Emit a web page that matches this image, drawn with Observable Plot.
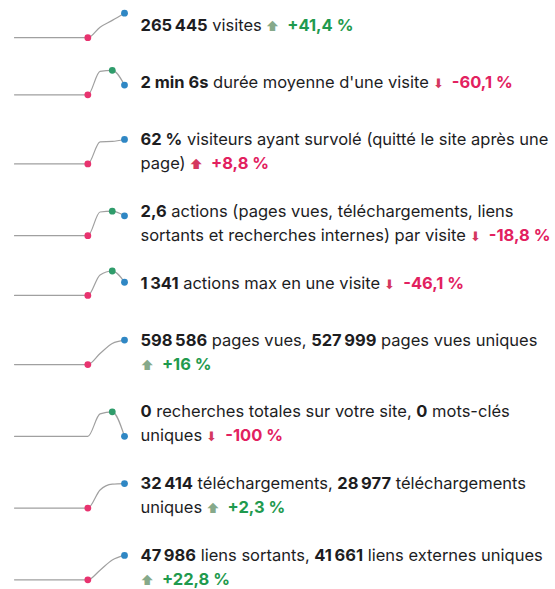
<!DOCTYPE html>
<html><head><meta charset="utf-8">
<script src="https://cdn.jsdelivr.net/npm/d3@7"></script>
<script src="https://cdn.jsdelivr.net/npm/@observablehq/plot@0.6"></script>
<style>
html,body{margin:0;padding:0;background:#fff;}
#chart svg{display:block;}
</style></head><body><div id="chart"></div>
<script>
// ---- data ----
const metrics = ["visits","avgTime","bounce","actionsPerVisit","maxActions","pageviews","searches","downloads","outlinks"];
// sparkline values, 10 periods (oldest → latest)
const visitsSeries      = [0,0,0,0,0,0,0,114000,187700,265445];
const avgTimeSeries     = [0,0,0,0,0,0,0,303,316,126];
const bounceSeries      = [0,0,0,0,0,0,0,56,57,62];
const actionsSeries     = [0,0,0,0,0,0,0,3.1,3.2,2.6];
const maxActionsSeries  = [0,0,0,0,0,0,0,2090,2488,1341];
const pageviewsSeries   = [0,0,0,0,0,0,0,270000,516000,598586];
const searchesSeries    = [0,0,0,0,0,0,0,11,12,0];
const downloadsSeries   = [0,0,0,0,0,0,0,24000,31690,32414];
const outlinksSeries    = [0,0,0,0,0,0,0,19000,39080,47986];
const series = [visitsSeries, avgTimeSeries, bounceSeries, actionsSeries, maxActionsSeries,
                pageviewsSeries, searchesSeries, downloadsSeries, outlinksSeries];

const N = "\u202F"; // narrow no-break space
const headlineLines = [
  [`**265${N}445** visites`],
  [`**2 min 6s** durée moyenne d'une visite`],
  [`**62 %** visiteurs ayant survolé (quitté le site après une`, `page)`],
  [`**2,6** actions (pages vues, téléchargements, liens`, `sortants et recherches internes) par visite`],
  [`**1${N}341** actions max en une visite`],
  [`**598${N}586** pages vues, **527${N}999** pages vues uniques`, ``],
  [`**0** recherches totales sur votre site, **0** mots-clés`, `uniques`],
  [`**32${N}414** téléchargements, **28${N}977** téléchargements`, `uniques`],
  [`**47${N}986** liens sortants, **41${N}661** liens externes uniques`, ``]
];
const evolution = ["+41,4\u00A0%","-60,1\u00A0%","+8,8\u00A0%","-18,8\u00A0%","-46,1\u00A0%","+16\u00A0%","-100\u00A0%","+2,3\u00A0%","+22,8\u00A0%"];
const trendUp   = [true,false,true,false,false,true,false,true,true];
const trendGood = [true,false,false,false,false,true,false,true,true];

// ---- style / layout ----
const W = 555, H = 589, UNIT = 24;        // one text line = 1 unit (24px)
const FIRST_TOP = 0.54, STEP1 = 2.38, STEP2 = 2.99, SPARK_H = 1.02;
const TEXT = "#1d1d1f", GOOD = "#1f9a4e", BAD = "#e2215f";
const ARROW_GOOD = "#86a98a", ARROW_BAD = "#d4385f";
const LINE = "#a0a0a0", MIN_C = "#e8336f", MAX_C = "#2f9c6b", LAST_C = "#2f87c4";

// row tops (in line units) from each row's number of lines
const rowTop = [];
headlineLines.reduce((t, lines, r) => { rowTop[r] = t; return t + (lines.length === 1 ? STEP1 : STEP2); }, FIRST_TOP);
const rowCenter = headlineLines.map((l, r) => rowTop[r] + l.length / 2);

const sparkData = series.flatMap((s, r) => {
  const mx = d3.max(s) || 1;
  return s.map((v, i) => ({r, i, v, y: rowCenter[r] + SPARK_H / 2 - (v / mx) * SPARK_H}));
});
const dotData = series.flatMap((s, r) => {
  const last = s.length - 1;
  const mn = d3.min(s), mx = d3.max(s);
  let minIdx = 0; s.forEach((v, i) => { if (v === mn) minIdx = i; });
  const maxIdx = s.indexOf(mx);
  const pts = [];
  if (minIdx !== last) pts.push({r, i: minIdx, c: MIN_C});
  if (maxIdx !== last) pts.push({r, i: maxIdx, c: MAX_C});
  pts.push({r, i: last, c: LAST_C});
  return pts.map(p => ({...p, y: sparkData.find(d => d.r === r && d.i === p.i).y}));
});

function parse(str) {
  return str.split("**").map((t, k) => ({text: t, bold: k % 2 === 1})).filter(s => s.text !== "");
}
const textData = headlineLines.flatMap((lines, r) => lines.map((line, j) => {
  const segs = parse(line);
  if (j === lines.length - 1) {
    const good = trendGood[r];
    segs.push({text: trendUp[r] ? "\u2B06" : "\u2B07", fill: good ? ARROW_GOOD : ARROW_BAD, size: 13, dx: line === "" ? 0 : 4});
    segs.push({text: evolution[r], bold: true, fill: good ? GOOD : BAD, dx: 8});
  }
  return {r, j, y: rowTop[r] + j + 0.5, segs, plain: segs.map(s => s.text).join("")};
}));

const chart = Plot.plot({
  width: W, height: H,
  marginLeft: 14, marginRight: W - 124, marginTop: 0, marginBottom: 0,
  x: {domain: [0, 9], axis: null},
  y: {domain: [0, H / UNIT], range: [0, H], axis: null},
  style: {background: "#fff", fontFamily: "Inter, 'Noto Sans', sans-serif"},
  marks: [
    Plot.line(sparkData, {x: "i", y: "y", z: "r", stroke: LINE, strokeWidth: 1.2, curve: "monotone-x"}),
    Plot.dot(dotData, {x: "i", y: "y", r: 3.4, fill: d => d.c, stroke: "none"}),
    Plot.text(textData, {x: () => 9, y: "y", text: "plain", dx: 16, textAnchor: "start",
      fontSize: 16.5, fill: TEXT})
  ]
});

d3.select(chart).selectAll('g[aria-label="text"] text').each(function(_, k) {
  const d = textData[k];
  if (!d) return;
  const t = d3.select(this);
  t.text(null);
  d.segs.forEach(s => {
    const ts = t.append("tspan").text(s.text);
    if (s.bold) ts.attr("font-weight", 700);
    if (s.fill) ts.attr("fill", s.fill);
    if (s.size) ts.attr("font-size", s.size);
    if (s.dx) ts.attr("dx", s.dx);
  });
});
document.getElementById("chart").appendChild(chart);
</script>
</body></html>
